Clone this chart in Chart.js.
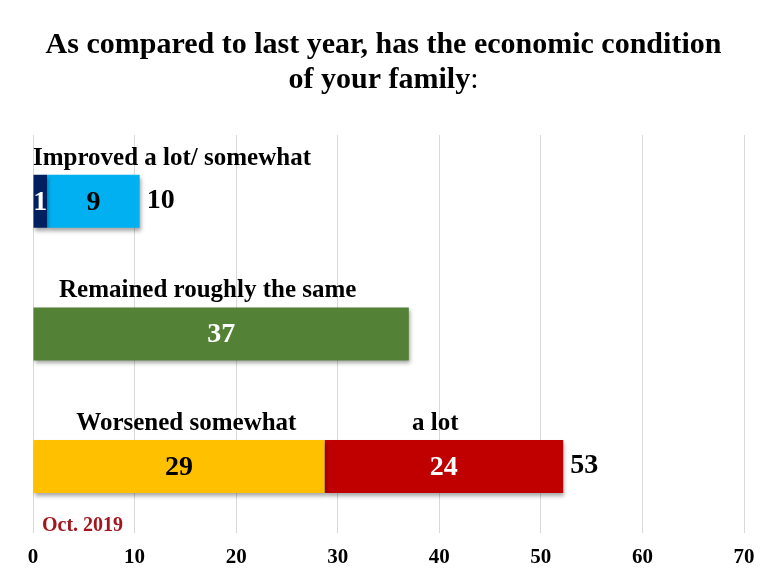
<!DOCTYPE html>
<html>
<head>
<meta charset="utf-8">
<script src="https://cdn.jsdelivr.net/npm/chart.js@4.4.1/dist/chart.umd.min.js"></script>
<style>
html,body{margin:0;padding:0;background:#fff;overflow:hidden;}
#wrap{width:771px;height:582px;position:relative;}
</style>
</head>
<body>
<div id="wrap"><canvas id="c"></canvas></div>
<script>
// ---- data ----
const categories = ['Improved a lot/ somewhat', 'Remained roughly the same', 'Worsened'];
const improvedALot = [1.4, null, null];
const improvedSomewhat = [9.1, null, null];
const remainedSame = [null, 37, null];
const worsenedSomewhat = [null, null, 28.7];
const worsenedALot = [null, null, 23.5];
const shownImprovedALot = ['1', null, null];
const shownImprovedSomewhat = ['9', null, null];
const shownRemainedSame = [null, '37', null];
const shownWorsenedSomewhat = [null, null, '29'];
const shownWorsenedALot = [null, null, '24'];
const shownTotals = ['10', null, '53'];
const xTicks = [0, 10, 20, 30, 40, 50, 60, 70];
const titleLines = ['As compared to last year, has the economic condition', 'of your family'];
const captionTexts = ['Improved a lot/ somewhat', 'Remained roughly the same', 'Worsened somewhat', 'a lot'];
const noteText = 'Oct. 2019';

const FONT = '"Liberation Serif", "Times New Roman", serif';

const datasets = [
  {data: improvedALot, shown: shownImprovedALot, backgroundColor: '#002060', textColor: '#ffffff'},
  {data: improvedSomewhat, shown: shownImprovedSomewhat, backgroundColor: '#00B0F0', textColor: '#000000'},
  {data: remainedSame, shown: shownRemainedSame, backgroundColor: '#538135', textColor: '#ffffff'},
  {data: worsenedSomewhat, shown: shownWorsenedSomewhat, backgroundColor: '#FFC000', textColor: '#000000'},
  {data: worsenedALot, shown: shownWorsenedALot, backgroundColor: '#C00000', textColor: '#ffffff'}
].map(d => Object.assign({borderWidth: 0, categoryPercentage: 0.8, barPercentage: 0.5}, d));

// caption placement: category index, x in data units, alignment
const captionPlace = [
  {cat: 0, x: 0, align: 'left'},
  {cat: 1, x: 17.2, align: 'center'},
  {cat: 2, x: 15.1, align: 'center'},
  {cat: 2, x: 39.6, align: 'center'}
];

const shadowPlugin = {
  id: 'shadow',
  beforeDatasetDraw(chart) {
    const ctx = chart.ctx;
    ctx.save();
    ctx.shadowColor = 'rgba(0,0,0,0.35)';
    ctx.shadowBlur = 4;
    ctx.shadowOffsetX = 1;
    ctx.shadowOffsetY = 3;
  },
  afterDatasetDraw(chart) {
    chart.ctx.restore();
  }
};

const textPlugin = {
  id: 'texts',
  afterDraw(chart) {
    const ctx = chart.ctx;
    const xs = chart.scales.x;
    const ca = chart.chartArea;
    ctx.save();
    // title
    ctx.fillStyle = '#000';
    ctx.textBaseline = 'alphabetic';
    ctx.font = 'bold 30px ' + FONT;
    const cx = chart.width / 2 - 2;
    ctx.textAlign = 'center';
    ctx.fillText(titleLines[0], cx, 53);
    const w2 = ctx.measureText(titleLines[1]).width;
    ctx.font = '30px ' + FONT;
    const wc = ctx.measureText(':').width;
    ctx.font = 'bold 30px ' + FONT;
    ctx.textAlign = 'left';
    const start = cx - (w2 + wc) / 2;
    ctx.fillText(titleLines[1], start, 88);
    ctx.font = '30px ' + FONT;
    ctx.fillText(':', start + w2, 88);

    // value labels inside segments
    ctx.textAlign = 'center';
    ctx.textBaseline = 'middle';
    ctx.font = 'bold 28px ' + FONT;
    chart.data.datasets.forEach((ds, di) => {
      const meta = chart.getDatasetMeta(di);
      meta.data.forEach((el, i) => {
        if (ds.data[i] == null || ds.shown[i] == null) return;
        ctx.fillStyle = ds.textColor;
        ctx.fillText(ds.shown[i], (el.x + el.base) / 2, el.y + 1);
      });
    });

    // totals
    ctx.textAlign = 'left';
    ctx.fillStyle = '#000';
    shownTotals.forEach((t, i) => {
      if (t == null) return;
      let end = 0;
      chart.data.datasets.forEach(ds => { if (ds.data[i] != null) end += ds.data[i]; });
      const el = chart.getDatasetMeta(0).data[i];
      ctx.fillText(t, xs.getPixelForValue(end) + 7, el.y - 1);
    });

    // captions above bars
    ctx.font = 'bold 25px ' + FONT;
    ctx.textBaseline = 'alphabetic';
    captionTexts.forEach((t, k) => {
      const p = captionPlace[k];
      const el = chart.getDatasetMeta(0).data[p.cat];
      const top = el.y - el.height / 2;
      ctx.textAlign = p.align;
      ctx.fillText(t, xs.getPixelForValue(p.x), top - 10);
    });

    // note
    ctx.font = 'bold 20px ' + FONT;
    ctx.fillStyle = '#A3161E';
    ctx.textAlign = 'left';
    ctx.fillText(noteText, ca.left + 9, ca.bottom - 2);
    ctx.restore();
  }
};

new Chart(document.getElementById('c'), {
  type: 'bar',
  data: {labels: categories, datasets: datasets},
  options: {
    indexAxis: 'y',
    responsive: true,
    maintainAspectRatio: false,
    animation: false,
    layout: {padding: {top: 135, left: 33, right: 27, bottom: 0}},
    plugins: {legend: {display: false}, tooltip: {enabled: false}, title: {display: false}},
    scales: {
      x: {
        stacked: true,
        min: 0, max: 70,
        afterBuildTicks(scale) { scale.ticks = xTicks.map(v => ({value: v})); },
        grid: {color: '#D9D9D9', lineWidth: 1, drawTicks: false},
        border: {display: false},
        ticks: {color: '#000', padding: 12, font: {family: FONT, size: 21, weight: 'bold', lineHeight: 1.2}}
      },
      y: {
        stacked: true,
        display: false,
        grid: {display: false}
      }
    }
  },
  plugins: [shadowPlugin, textPlugin]
});
</script>
</body>
</html>
